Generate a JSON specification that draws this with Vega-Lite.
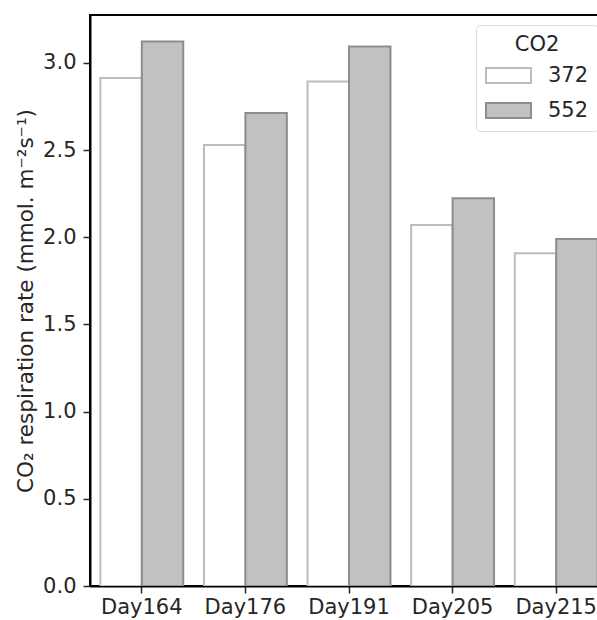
{
  "$schema": "https://vega.github.io/schema/vega-lite/v6.json",
  "autosize": {"type": "none"},
  "padding": {"left": 90, "top": 15, "right": -11, "bottom": 34},
  "width": 518,
  "height": 571,
  "background": "white",
  "config": {
    "font": "DejaVu Sans",
    "view": {"stroke": "black", "strokeWidth": 2},
    "axis": {"labelFont": "DejaVu Sans", "titleFont": "DejaVu Sans", "labelColor": "#262626", "titleColor": "#262626", "domainColor": "black", "domainWidth": 2, "tickColor": "#262626", "tickWidth": 1.5, "tickSize": 7, "grid": false, "labelFontSize": 21, "titleFontSize": 21.5, "titleFontWeight": "normal", "labelPadding": 5}
  },
  "data": {
    "values": [
      {"day": "Day164", "co2": "372", "rate": 2.914},
      {"day": "Day164", "co2": "552", "rate": 3.123},
      {"day": "Day176", "co2": "372", "rate": 2.530},
      {"day": "Day176", "co2": "552", "rate": 2.713},
      {"day": "Day191", "co2": "372", "rate": 2.893},
      {"day": "Day191", "co2": "552", "rate": 3.094},
      {"day": "Day205", "co2": "372", "rate": 2.071},
      {"day": "Day205", "co2": "552", "rate": 2.224},
      {"day": "Day215", "co2": "372", "rate": 1.908},
      {"day": "Day215", "co2": "552", "rate": 1.990}
    ]
  },
  "mark": {"type": "bar", "strokeWidth": 2, "clip": true},
  "encoding": {
    "x": {"field": "day", "type": "nominal", "sort": null, "scale": {"paddingInner": 0, "paddingOuter": 0},
      "axis": {"title": null, "labelAngle": 0, "labelPadding": 3}},
    "xOffset": {"field": "co2", "type": "nominal", "scale": {"paddingInner": 0, "paddingOuter": 0.25}},
    "y": {"field": "rate", "type": "quantitative", "scale": {"domain": [0, 3.275], "nice": false},
      "axis": {"title": "CO₂ respiration rate (mmol. m⁻²s⁻¹)", "values": [0, 0.5, 1, 1.5, 2, 2.5, 3], "format": ".1f", "titlePadding": 5, "labelPadding": 7}},
    "fill": {"field": "co2", "type": "nominal", "scale": {"range": ["#ffffff", "#c0c1c3"]},
      "legend": {"title": "CO2", "orient": "none", "legendX": 386, "legendY": 10, "titleFontSize": 21, "labelFontSize": 21, "titleFontWeight": "normal", "titleAnchor": "middle", "titleColor": "#262626", "labelColor": "#262626", "symbolType": "M-1,-0.33H1V0.33H-1Z", "symbolSize": 2025, "symbolStrokeWidth": 2, "labelOffset": 16, "rowPadding": -16, "titlePadding": -3, "padding": 9, "strokeColor": "#dcdcdc", "cornerRadius": 4, "fillColor": "white"}},
    "stroke": {"field": "co2", "type": "nominal", "scale": {"range": ["#bcbcbc", "#8c8d8f"]}, "legend": {"title": "CO2"}}
  }
}
